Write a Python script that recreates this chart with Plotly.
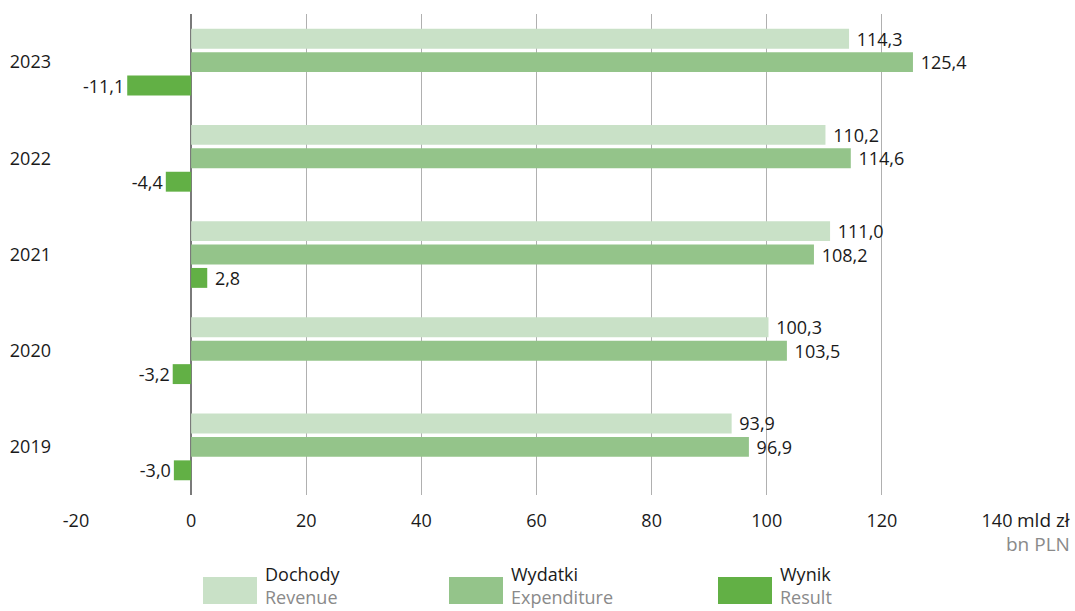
import plotly.graph_objects as go

years = ["2019", "2020", "2021", "2022", "2023"]
dochody = [93.9, 100.3, 111.0, 110.2, 114.3]
wydatki = [96.9, 103.5, 108.2, 114.6, 125.4]
wynik = [-3.0, -3.2, 2.8, -4.4, -11.1]
x_ticks = [-20, 0, 20, 40, 60, 80, 100, 120, 140]
legend_pl = ["Dochody", "Wydatki", "Wynik"]
legend_en = ["Revenue", "Expenditure", "Result"]
colors = ["#c9e1c7", "#94c48a", "#62b045"]

FONT = "Open Sans"
FS = 18
L, T, PW, PH = 76, 14, 921, 481

fig = go.Figure()
for vals, col in [(wynik, colors[2]), (wydatki, colors[1]), (dochody, colors[0])]:
    fig.add_trace(go.Bar(
        y=years, x=vals, orientation="h", marker=dict(color=col, line=dict(width=0)),
        texttemplate="\u00a0%{x:.1f}", textposition="outside", cliponaxis=False,
        constraintext="none",
        textfont=dict(family=FONT, size=FS, color="#1a1a1a"),
        showlegend=False, hoverinfo="skip",
    ))

fig.update_layout(
    width=1075, height=611,
    margin=dict(l=L, r=1075 - L - PW, t=T, b=611 - T - PH, autoexpand=False),
    paper_bgcolor="white", plot_bgcolor="white",
    barmode="group", bargap=0.27, bargroupgap=0.15,
    separators=", ",
    font=dict(family=FONT, size=FS, color="#1a1a1a"),
    showlegend=False,
    xaxis=dict(
        range=[-20, 140], tickvals=x_ticks, ticktext=[str(v) for v in x_ticks],
        showgrid=True, gridcolor="#b0b0b0", gridwidth=1.3,
        zeroline=True, zerolinecolor="#7a7a7a", zerolinewidth=1.5,
        showline=False, ticks="", ticklabelstandoff=13,
        tickfont=dict(size=FS, color="#1a1a1a"),
    ),
    yaxis=dict(
        type="category", categoryorder="array", categoryarray=years,
        range=[-0.5, 4.5], showgrid=False, zeroline=False, showline=False,
        ticks="", ticklabelstandoff=24, tickfont=dict(size=FS, color="#1a1a1a"),
    ),
)

def fx(p): return (p - L) / PW
def fy(p): return (T + PH - p) / PH

fig.add_annotation(x=fx(1072), y=fy(520), xref="paper", yref="paper",
                   text="mld zł", showarrow=False, xanchor="right", yanchor="middle",
                   font=dict(size=19, color="#1a1a1a"))
fig.add_annotation(x=fx(1072), y=fy(544), xref="paper", yref="paper",
                   text="bn PLN", showarrow=False, xanchor="right", yanchor="middle",
                   font=dict(size=19, color="#8a8a8a"))

shapes = []
sw_x = [203, 449, 718]
for i in range(3):
    shapes.append(dict(type="rect", xref="paper", yref="paper",
                       x0=fx(sw_x[i]), x1=fx(sw_x[i] + 54),
                       y0=fy(604), y1=fy(577),
                       fillcolor=colors[i], line=dict(width=0), layer="above"))
    fig.add_annotation(x=fx(sw_x[i] + 60), y=fy(585), xref="paper", yref="paper",
                       text=f"{legend_pl[i]}<br><span style='color:#8a8a8a'>{legend_en[i]}</span>",
                       showarrow=False, xanchor="left", yanchor="middle", align="left",
                       font=dict(size=18, color="#1a1a1a"))
fig.update_layout(shapes=shapes)

fig.write_html("out.html", config={"displayModeBar": False},
               post_script="document.body.style.margin='0';document.body.style.overflow='hidden';")
